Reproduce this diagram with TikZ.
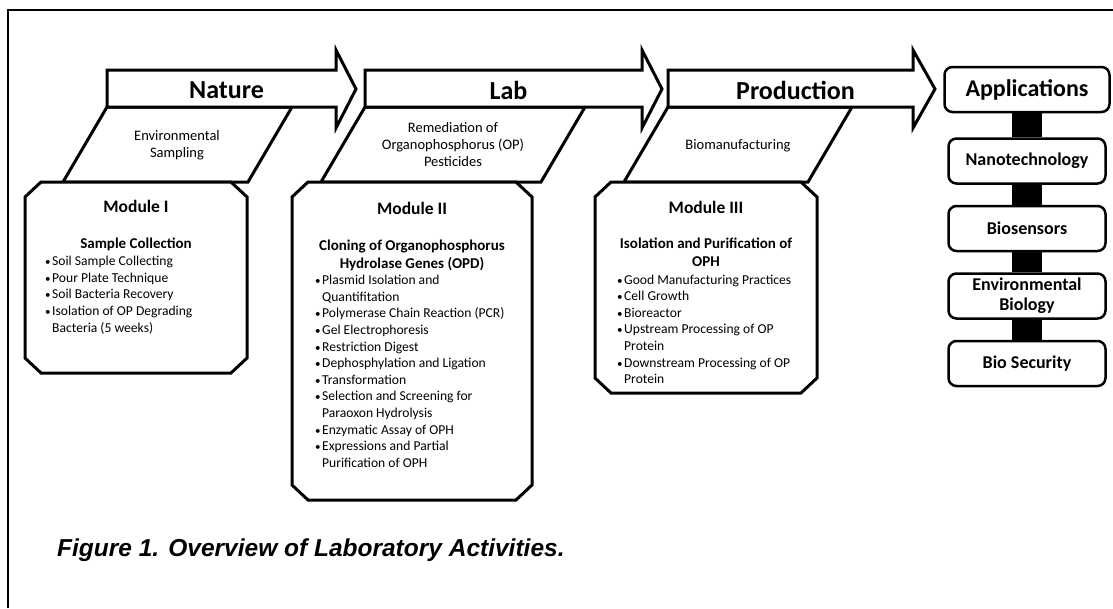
\documentclass[tikz,border=0pt]{standalone}
\usepackage{fontspec}
\setmainfont{Carlito}
\newfontfamily\capfont{Liberation Sans}
\usetikzlibrary{positioning}
\newcommand\bitem{\makebox[7pt][l]{\fontsize{11}{11}\selectfont\textbullet}}
\newcommand\bcont{\hspace*{7pt}}
\tikzset{
  stage/.style={draw, line width=3pt, fill=white, line join=miter},
  modbox/.style={draw, line width=3pt, fill=white},
  appbox/.style={draw, line width=2.5pt, rounded corners=8pt, fill=white, minimum height=45pt, minimum width=157pt, align=center, font=\bfseries\fontsize{18}{20}\selectfont},
  bar/.style={line width=30pt},
  bullets/.style={anchor=north west, inner sep=0pt, align=left, font=\fontsize{13.6}{16.6}\selectfont},
  subhead/.style={anchor=north, inner sep=0pt, align=center, font=\bfseries\fontsize{15}{18}\selectfont},
  modtitle/.style={inner sep=0pt, font=\bfseries\fontsize{17.5}{20}\selectfont},
  panel/.style={align=center, font=\fontsize{14.5}{17}\selectfont}
}
\begin{document}
\begin{tikzpicture}[x=1pt,y=-1pt]
\useasboundingbox (0,0) rectangle (1113,608);
\draw[line width=1.6pt] (8,608) -- (8,10) -- (1113,10);
% panels under the arrows
\foreach \tl/\tr in {107/292, 365/585, 668/852}
  \draw[stage] (\tl,107) -- (\tr,107) -- (\tr-44,182) -- (\tl-44,182) -- cycle;
% stage arrows
\foreach \l/\h/\t/\lab in {107/336/356/Nature, 365/642/662/Lab, 668/913/935/Production}{
  \draw[stage] (\l,70) -- (\h,70) -- (\h,50) -- (\t,89) -- (\h,128) -- (\h,107) -- (\l,107) -- cycle;
  \node[font=\bfseries\fontsize{26}{30}\selectfont] (st-\lab) at ({(\l+\h)/2+5},90) {\lab};
}
\node[panel] (envsamp) at (177,145) {Environmental\\Sampling};
\node[panel] (remed) at (453,145) {Remediation of\\Organophosphorus (OP)\\Pesticides};
\node[panel] (biomanu) at (738,146) {Biomanufacturing};
% modules
\foreach \xa/\xb/\yb in {25/247/373, 292/532/500, 595/817/393}
  \draw[modbox] (\xa+16,182) -- (\xb-16,182) -- (\xb,197) -- (\xb,\yb-15) -- (\xb-16,\yb) -- (\xa+16,\yb) -- (\xa,\yb-15) -- (\xa,197) -- cycle;
\node[modtitle] (mod1) at (136,206) {Module I};
\node[modtitle] (mod2) at (412,208) {Module II};
\node[modtitle] (mod3) at (706,207) {Module III};
\node[subhead] (sub1) at (136,238) {Sample Collection};
\node[subhead] (sub2) at (412,240) {Cloning of Organophosphorus\\Hydrolase Genes (OPD)};
\node[subhead] (sub3) at (706,238) {Isolation and Purification of\\OPH};
\node[bullets] (list1) at (45,256) {\bitem Soil Sample Collecting\\ \bitem Pour Plate Technique\\ \bitem Soil Bacteria Recovery\\ \bitem Isolation of OP Degrading\\ \bcont Bacteria (5 weeks)};
\node[bullets] (list2) at (315,275) {\bitem Plasmid Isolation and\\ \bcont Quantifitation\\ \bitem Polymerase Chain Reaction (PCR)\\ \bitem Gel Electrophoresis\\ \bitem Restriction Digest\\ \bitem Dephosphylation and Ligation\\ \bitem Transformation\\ \bitem Selection and Screening for\\ \bcont Paraoxon Hydrolysis\\ \bitem Enzymatic Assay of OPH\\ \bitem Expressions and Partial\\ \bcont Purification of OPH};
\node[bullets] (list3) at (617,274.5) {\bitem Good Manufacturing Practices\\ \bitem Cell Growth\\ \bitem Bioreactor\\ \bitem Upstream Processing of OP\\ \bcont Protein\\ \bitem Downstream Processing of OP\\ \bcont Protein};
% applications
\node[appbox, minimum width=165pt, font=\bfseries\fontsize{24}{28}\selectfont] (app) at (1027,89.5) {Applications};
\node[appbox, below=24pt of app] (nano) {Nanotechnology};
\node[appbox, below=20pt of nano] (biosens) {Biosensors};
\node[appbox, below=20pt of biosens] (envbio) {Environmental\\Biology};
\node[appbox, below=20pt of envbio] (biosec) {Bio Security};
\foreach \a/\b in {app/nano, nano/biosens, biosens/envbio, envbio/biosec}
  \draw[bar] (\a) -- (\b);
\node[anchor=west, inner sep=0pt, font=\capfont\bfseries\itshape\fontsize{24.5}{28}\selectfont] (cap) at (57,550) {Figure 1. Overview of Laboratory Activities.};
\end{tikzpicture}
\end{document}
